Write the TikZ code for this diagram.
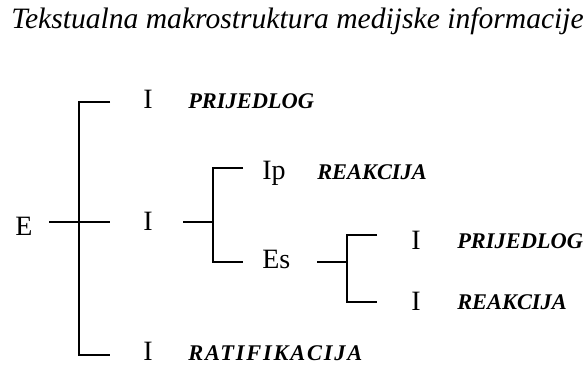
\documentclass[tikz,border=0pt]{standalone}
\usepackage{fontspec}
\setmainfont{Liberation Serif}
\usetikzlibrary{positioning}
\newlength\pxu
\setlength\pxu{0.75pt}
\tikzset{
  heading/.style={font=\fontsize{22.2}{25}\selectfont\itshape, inner sep=0pt, anchor=base west},
  lbl/.style    ={font=\fontsize{21}{24}\selectfont, inner sep=0pt, anchor=base west},
  tag/.style    ={font=\fontsize{16.8}{19}\selectfont\bfseries\itshape, inner sep=0pt, anchor=base west},
  tree/.style   ={line width=1.4pt},
}
\begin{document}
\begin{tikzpicture}[x=0.75pt, y=-0.75pt]
\useasboundingbox (0,0) rectangle (588,365);
% ---- heading
\node[heading] (title) at (11,28) {Tekstualna makrostruktura medijske informacije};

% ---- labels
\node[lbl] (E)  at (15,235)  {E};
\node[lbl] (I1) at (143,108) {I};
\node[lbl] (I2) at (143,230) {I};
\node[lbl] (I3) at (143,360) {I};
\node[lbl] (Ip) at (262,179) {Ip};
\node[lbl] (Es) at (262,268) {Es};
\node[lbl] (I4) at (411,249) {I};
\node[lbl] (I5) at (411,310) {I};
\node[tag] (p1) at (188,108) {PRIJEDLOG};
\node[tag] (r1) at (317,179) {REAKCIJA};
\node[tag] (p2) at (457,248) {PRIJEDLOG};
\node[tag] (r2) at (457,309) {REAKCIJA};
\node[tag] (rt) at (188,360) {\addfontfeatures{LetterSpace=8}RATIFIKACIJA};

% ---- first fork (E)
\coordinate (e0) at (49,222);
\coordinate (e1) at (79,222);
\coordinate (a1) at (110,102);
\coordinate (a2) at (110,222);
\coordinate (a3) at (110,355);
\draw[tree] (e0) -- (a2);
\draw[tree] (a1) -| (e1) |- (a3);

% ---- second fork (I)
\coordinate (i0) at (183,222);
\coordinate (i1) at (213,222);
\coordinate (b1) at (243,168);
\coordinate (b2) at (243,262);
\draw[tree] (i0) -- (i1);
\draw[tree] (b1) -| (i1) |- (b2);

% ---- third fork (Es)
\coordinate (s0) at (317,262);
\coordinate (s1) at (347,262);
\coordinate (c1) at (377,235);
\coordinate (c2) at (377,302);
\draw[tree] (s0) -- (s1);
\draw[tree] (c1) -| (s1) |- (c2);
\end{tikzpicture}
\end{document}
